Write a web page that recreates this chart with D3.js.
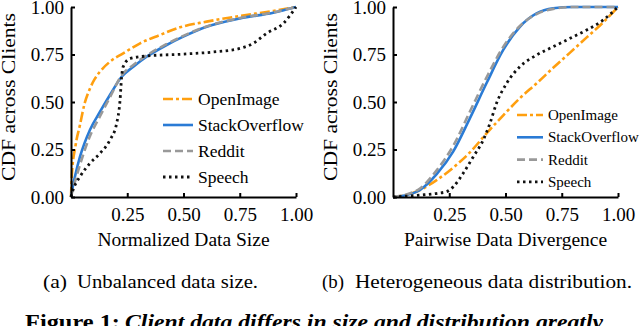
<!DOCTYPE html>
<html><head><meta charset="utf-8">
<script src="https://cdn.jsdelivr.net/npm/d3@7"></script>
<style>
html,body{margin:0;padding:0;background:#fff;}
svg{display:block;}
text{font-family:"Liberation Serif","Times New Roman",serif;fill:#000;}
</style></head>
<body>
<svg id="fig" width="640" height="326"></svg>
<script>
// ---------------- DATA ----------------
const seriesNames = ["OpenImage", "StackOverflow", "Reddit", "Speech"];
const yTicks = [0, 0.25, 0.5, 0.75, 1.0];
const xTicks = [0.25, 0.5, 0.75, 1.0];

// (a) Unbalanced data size: [normalized size, CDF]
const sizeOpenImage = [[0,0],[0.004,0.12],[0.02,0.27],[0.04,0.38],[0.06,0.49],[0.084,0.57],[0.105,0.62],[0.129,0.66],[0.173,0.712],[0.232,0.756],[0.307,0.809],[0.396,0.853],[0.484,0.893],[0.603,0.923],[0.751,0.953],[0.899,0.979],[1,1]];
const sizeStackOverflow = [[0,0],[0.004,0.03],[0.02,0.12],[0.04,0.212],[0.084,0.353],[0.129,0.449],[0.173,0.537],[0.225,0.633],[0.277,0.686],[0.336,0.738],[0.425,0.8],[0.499,0.844],[0.603,0.896],[0.751,0.94],[0.899,0.97],[1,1]];
const sizeReddit = [[0,0],[0.004,0.02],[0.02,0.09],[0.04,0.17],[0.084,0.32],[0.129,0.425],[0.173,0.525],[0.225,0.64],[0.277,0.695],[0.336,0.745],[0.425,0.805],[0.499,0.848],[0.603,0.898],[0.751,0.942],[0.899,0.972],[1,1]];
const sizeSpeech = [[0,0],[0.01,0.04],[0.04,0.107],[0.084,0.177],[0.129,0.23],[0.173,0.3],[0.203,0.388],[0.218,0.51],[0.225,0.633],[0.232,0.686],[0.262,0.728],[0.336,0.742],[0.499,0.752],[0.648,0.765],[0.751,0.782],[0.81,0.809],[0.87,0.862],[0.944,0.914],[1,1]];

// (b) Heterogeneous data distribution: [pairwise divergence, CDF]
const divOpenImage = [[0,0],[0.05,0.008],[0.12,0.037],[0.194,0.089],[0.268,0.155],[0.342,0.235],[0.416,0.335],[0.49,0.43],[0.564,0.52],[0.64,0.6],[0.712,0.68],[0.787,0.76],[0.861,0.84],[0.935,0.92],[1,1]];
const divStackOverflow = [[0,0],[0.05,0.008],[0.12,0.037],[0.194,0.12],[0.268,0.24],[0.342,0.415],[0.416,0.6],[0.49,0.774],[0.564,0.896],[0.638,0.966],[0.712,0.993],[0.8,1],[1,1]];
const divReddit = [[0,0],[0.05,0.01],[0.12,0.045],[0.194,0.14],[0.268,0.27],[0.342,0.45],[0.416,0.63],[0.49,0.79],[0.564,0.9],[0.638,0.963],[0.712,0.99],[0.8,1],[1,1]];
const divSpeech = [[0,0],[0.12,0.01],[0.2,0.02],[0.238,0.028],[0.268,0.054],[0.312,0.125],[0.357,0.212],[0.401,0.3],[0.431,0.388],[0.46,0.493],[0.505,0.598],[0.564,0.686],[0.638,0.747],[0.712,0.791],[0.787,0.835],[0.861,0.879],[0.935,0.932],[1,1]];

const panelA = [sizeOpenImage, sizeStackOverflow, sizeReddit, sizeSpeech];
const panelB = [divOpenImage, divStackOverflow, divReddit, divSpeech];

// ---------------- STYLES ----------------
const styles = [
  {color:"#ff9f0f", dash:"10,3,3,3", width:2.6},
  {color:"#2a7bd5", dash:null, width:2.6},
  {color:"#999999", dash:"8,4", width:2.6},
  {color:"#111111", dash:"2.5,3.5", width:2.8}
];

const svg = d3.select("#fig");

function panel(cfg){
  const x = d3.scaleLinear().domain([0,1]).range([cfg.x0, cfg.x1]);
  const y = d3.scaleLinear().domain([0,1]).range([197, 7]);
  const g = svg.append("g");

  const line = d3.line().x(d=>x(d[0])).y(d=>y(d[1])).curve(d3.curveMonotoneX);
  cfg.data.forEach((s,i)=>{
    g.append("path").datum(s).attr("d", line)
      .attr("fill","none").attr("stroke",styles[i].color)
      .attr("stroke-width",styles[i].width)
      .attr("stroke-dasharray",styles[i].dash);
  });

  const ax = g.append("g").attr("transform",`translate(0,197)`)
    .call(d3.axisBottom(x).tickValues(xTicks).tickFormat(d3.format(".2f")).tickSizeInner(-4).tickSizeOuter(0).tickPadding(9));
  const ay = g.append("g").attr("transform",`translate(${cfg.x0},0)`)
    .call(d3.axisLeft(y).tickValues(yTicks).tickFormat(d3.format(".2f")).tickSizeInner(-4).tickSizeOuter(0).tickPadding(7));
  [ax,ay].forEach(a=>{
    a.select(".domain").attr("stroke","#000").attr("stroke-width",2);
    a.selectAll(".tick line").attr("stroke","#000").attr("stroke-width",2);
    a.selectAll("text").attr("font-family",'"Liberation Serif",serif').attr("font-size",19).attr("fill","#000");
  });
  ax.selectAll("text").attr("dy",null).attr("y",24);

  g.append("text").attr("x",(cfg.x0+cfg.x1)/2).attr("y",246)
    .attr("text-anchor","middle").attr("font-size",19.5).text(cfg.xtitle);
  g.append("text").attr("transform",`translate(${cfg.ytX},97) rotate(-90)`)
    .attr("text-anchor","middle").attr("font-size",19.5)
    .attr("textLength",168).attr("lengthAdjust","spacingAndGlyphs").text("CDF across Clients");

  // legend
  const lg = g.append("g");
  seriesNames.forEach((n,i)=>{
    const yy = cfg.leg.y0 + i*cfg.leg.dy;
    lg.append("line").attr("x1",cfg.leg.lx0).attr("x2",cfg.leg.lx1).attr("y1",yy).attr("y2",yy)
      .attr("stroke",styles[i].color).attr("stroke-width",styles[i].width)
      .attr("stroke-dasharray",styles[i].dash);
    lg.append("text").attr("x",cfg.leg.tx).attr("y",yy).attr("dy","0.33em")
      .attr("font-size",cfg.leg.fs).text(n);
  });
}

panel({x0:71, x1:296, data:panelA, xtitle:"Normalized Data Size", ytX:15,
  leg:{y0:99, dy:26, lx0:163, lx1:193, tx:198, fs:17.5}});
panel({x0:393, x1:618, data:panelB, xtitle:"Pairwise Data Divergence", ytX:337,
  leg:{y0:115, dy:22.3, lx0:517, lx1:543, tx:548, fs:15}});

// captions
function cap(x, y, txt, len, opts={}){
  const t = svg.append("text").attr("x",x).attr("y",y).attr("font-size",opts.fs||18)
    .attr("textLength",len).attr("lengthAdjust","spacingAndGlyphs");
  if(opts.weight) t.attr("font-weight",opts.weight);
  if(opts.style) t.attr("font-style",opts.style);
  t.text(txt);
}
cap(43, 288, "(a)", 24);
cap(77, 288, "Unbalanced data size.", 181);
cap(322, 288, "(b)", 22);
cap(355, 288, "Heterogeneous data distribution.", 277);
cap(25, 329, "Figure 1:", 95, {weight:"bold", fs:21});
cap(125, 329, "Client data differs in size and distribution greatly", 478, {weight:"bold", style:"italic", fs:21});
</script>
</body></html>
